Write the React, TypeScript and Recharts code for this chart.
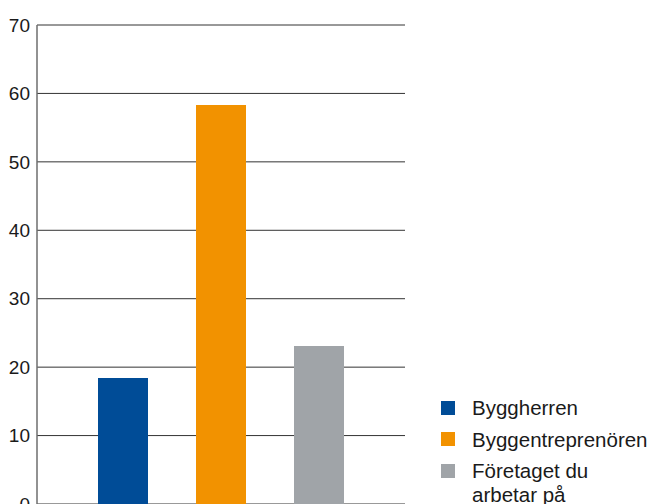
import { BarChart, Bar, XAxis, YAxis, CartesianGrid } from 'recharts'

// ---------------------------------------------------------------------------
// Single-group bar chart — three parties, values in percent
// ---------------------------------------------------------------------------

const seriesNames = ['Byggherren', 'Byggentreprenören', 'Företaget du arbetar på']
const seriesKeys = ['byggherren', 'entreprenor', 'foretaget']
const seriesColors = ['#004c97', '#f29200', '#a0a4a8']
const seriesValues = [18.4, 58.3, 23.1]
const yTicks = [0, 10, 20, 30, 40, 50, 60, 70]

const data = [
  seriesKeys.reduce<Record<string, number | string>>(
    (row, key, i) => {
      row[key] = seriesValues[i]
      return row
    },
    { name: '' }
  ),
]

const FONT = '"Liberation Sans", Arial, sans-serif'

const LegendBox = () => (
  <div
    style={{
      position: 'absolute',
      left: 441,
      top: 396,
      width: 211,
      fontFamily: FONT,
      fontSize: 20.5,
      color: '#1a1a1a',
      lineHeight: '24px',
    }}
  >
    {seriesNames.map((name, i) => (
      <div key={name} style={{ display: 'flex', alignItems: 'flex-start', marginBottom: 7.5 }}>
        <span
          style={{
            width: 14,
            height: 14,
            marginTop: 4.5,
            marginRight: 17,
            flex: '0 0 auto',
            background: seriesColors[i],
          }}
        />
        <span style={{ maxWidth: 180 }}>{name}</span>
      </div>
    ))}
  </div>
)

export default function App() {
  return (
    <div
      style={{
        position: 'fixed',
        left: 0,
        top: 0,
        width: 652,
        height: 504,
        overflow: 'hidden',
        background: '#fff',
      }}
    >
      <BarChart
        width={652}
        height={530}
        data={data}
        margin={{ top: 25, right: 247, bottom: 26, left: 0 }}
        barSize={50}
        barGap={48}
      >
        <CartesianGrid vertical={false} stroke="#333" strokeWidth={1} />
        <XAxis dataKey="name" hide />
        <YAxis
          width={37}
          domain={[0, 70]}
          ticks={yTicks}
          tickLine={false}
          tickSize={0}
          tickMargin={7}
          axisLine={{ stroke: '#6e6e6e', strokeWidth: 1.5 }}
          tick={{ fill: '#1a1a1a', fontSize: 19, fontFamily: FONT }}
        />
        {seriesKeys.map((key, i) => (
          <Bar key={key} dataKey={key} name={seriesNames[i]} fill={seriesColors[i]} isAnimationActive={false} />
        ))}
      </BarChart>
      <LegendBox />
    </div>
  )
}
